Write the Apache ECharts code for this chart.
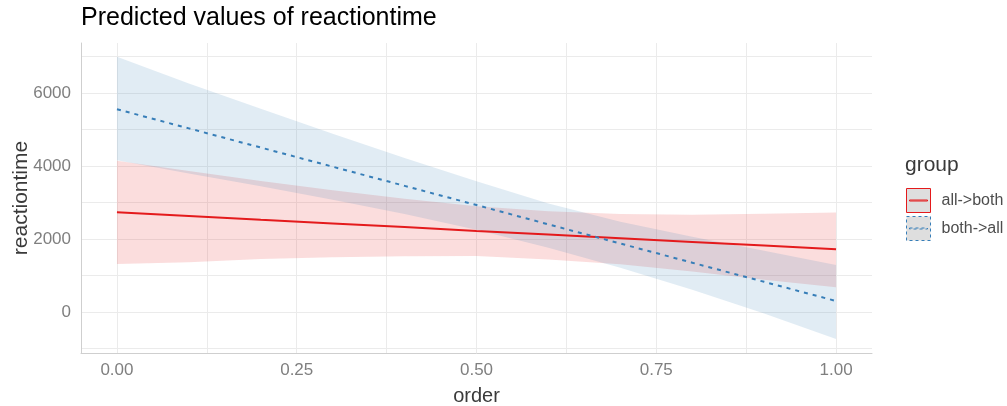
<!DOCTYPE html>
<html>
<head>
<meta charset="utf-8">
<script src="https://cdn.jsdelivr.net/npm/echarts@6/dist/echarts.min.js"></script>
<style>html,body{margin:0;padding:0;background:#fff}#chart{width:1007px;height:406px}</style>
</head>
<body>
<div id="chart"></div>
<script>
// ---- data ----
const orderValues = [0, 0.1, 0.2, 0.3, 0.4, 0.5, 0.6, 0.7, 0.8, 0.9, 1.0];
const groups = ['all->both', 'both->all'];
// all->both (red)
const redFit   = [2730, 2630, 2525, 2425, 2325, 2220, 2120, 2020, 1920, 1820, 1720];
const redLow   = [1315, 1360, 1450, 1500, 1525, 1535, 1440, 1310, 1110, 880, 676];
const redHigh  = [4145, 3864, 3588, 3332, 3099, 2899, 2758, 2682, 2664, 2688, 2725];
// both->all (blue)
const blueFit  = [5555, 5030, 4505, 3980, 3455, 2930, 2400, 1875, 1350, 825, 300];
const blueLow  = [4160, 3796, 3442, 3073, 2681, 2251, 1762, 1213, 606, -43, -740];
const blueHigh = [6990, 6260, 5565, 4885, 4220, 3580, 2970, 2470, 2060, 1680, 1285];
const xTickLabels = ['0.00', '0.25', '0.50', '0.75', '1.00'];
const yTickLabels = ['0', '2000', '4000', '6000'];

const FONT = 'Liberation Sans, Arial, Helvetica, sans-serif';
const RED = '#e41a1c', BLUE = '#377eb8';

const pairs = (ys) => orderValues.map((x, i) => [x, ys[i]]);
const band = (lo, hi) => orderValues.map((x, i) => [x, lo[i], hi[i]]);

function ribbon(name, lo, hi, fill, z) {
  return {
    name: name, type: 'custom', data: band(lo, hi), silent: true, z: z,
    encode: {x: 0, y: [1, 2]},
    renderItem: function (params, api) {
      if (params.dataIndex !== 0) return null;
      const n = orderValues.length;
      const top = [], bot = [];
      for (let i = 0; i < n; i++) {
        top.push(api.coord([orderValues[i], hi[i]]));
        bot.push(api.coord([orderValues[i], lo[i]]));
      }
      return {
        type: 'polygon',
        shape: {points: top.concat(bot.reverse())},
        style: {fill: fill, stroke: null}
      };
    }
  };
}

const chart = echarts.init(document.getElementById('chart'), null, {renderer: 'canvas'});
chart.setOption({
  animation: false,
  backgroundColor: '#ffffff',
  title: [
    {text: 'Predicted values of reactiontime', left: 81, top: 6, padding: 0,
     textStyle: {fontFamily: FONT, fontSize: 25, fontWeight: 'normal', color: '#000000'}},
    {text: 'group', left: 905, top: 155, padding: 0,
     textStyle: {fontFamily: FONT, fontSize: 21, fontWeight: 'normal', color: '#3a3a3a'}}
  ],
  legend: {
    orient: 'vertical', left: 906, top: 188, padding: 0,
    itemWidth: 24, itemHeight: 24, itemGap: 3,
    textStyle: {fontFamily: FONT, fontSize: 16, color: '#4d4d4d', padding: [0, 0, 0, 6]},
    data: [
      {name: groups[0], icon: 'path://M0,0H24V24H0Z M3,11.5H21V12.5H3Z',
       itemStyle: {color: '#dedede', borderColor: RED, borderWidth: 1, borderType: 'solid', opacity: 1}},
      {name: groups[1], icon: 'path://M0,0H24V24H0Z M3,11.5H21V12.5H3Z',
       itemStyle: {color: '#dedede', borderColor: BLUE, borderWidth: 1, borderType: [3, 3], opacity: 1}}
    ]
  },
  grid: {left: 81, right: 135, top: 43, bottom: 53, containLabel: false, outerBoundsMode: 'none'},
  xAxis: {
    type: 'value', min: -0.05, max: 1.05, splitNumber: 8,
    minInterval: 0.125, maxInterval: 0.125,
    name: 'order', nameLocation: 'middle', nameGap: 33, nameMoveOverlap: false,
    nameTextStyle: {fontFamily: FONT, fontSize: 20, color: '#3a3a3a'},
    axisLine: {show: true, onZero: false, lineStyle: {color: '#cfcfcf', width: 1}},
    axisTick: {show: false},
    axisLabel: {
      show: true, margin: 9, fontFamily: FONT, fontSize: 17, color: '#7f7f7f',
      showMinLabel: false, showMaxLabel: false,
      formatter: (v) => {
        const k = Math.round(v * 4);
        return Math.abs(v * 4 - k) < 1e-6 && k >= 0 && k < xTickLabels.length ? xTickLabels[k] : '';
      }
    },
    splitLine: {show: true, showMinLine: false, showMaxLine: false, lineStyle: {color: '#ebebeb', width: 1}}
  },
  yAxis: {
    type: 'value', min: -1125, max: 7370, splitNumber: 8,
    minInterval: 1000, maxInterval: 1000,
    name: 'reactiontime', nameLocation: 'middle', nameGap: 49, nameMoveOverlap: false,
    nameTextStyle: {fontFamily: FONT, fontSize: 21, color: '#3a3a3a'},
    axisLine: {show: true, onZero: false, lineStyle: {color: '#cfcfcf', width: 1}},
    axisTick: {show: false},
    axisLabel: {
      show: true, margin: 10, fontFamily: FONT, fontSize: 17, color: '#7f7f7f',
      showMinLabel: false, showMaxLabel: false,
      formatter: (v) => {
        const s = String(Math.round(v));
        return yTickLabels.indexOf(s) >= 0 && Math.abs(v - Math.round(v)) < 1e-6 ? s : '';
      }
    },
    splitLine: {show: true, showMinLine: false, showMaxLine: false, lineStyle: {color: '#ebebeb', width: 1}}
  },
  series: [
    ribbon('ciRed', redLow, redHigh, 'rgba(228,26,28,0.15)', 1),
    ribbon('ciBlue', blueLow, blueHigh, 'rgba(55,126,184,0.15)', 2),
    {name: groups[0], type: 'line', data: pairs(redFit), showSymbol: false, symbol: 'none',
     color: RED, lineStyle: {color: RED, width: 2, type: 'solid'}, z: 5},
    {name: groups[1], type: 'line', data: pairs(blueFit), showSymbol: false, symbol: 'none',
     color: BLUE, lineStyle: {color: BLUE, width: 2, type: [4, 5]}, z: 6}
  ]
});
</script>
</body>
</html>
